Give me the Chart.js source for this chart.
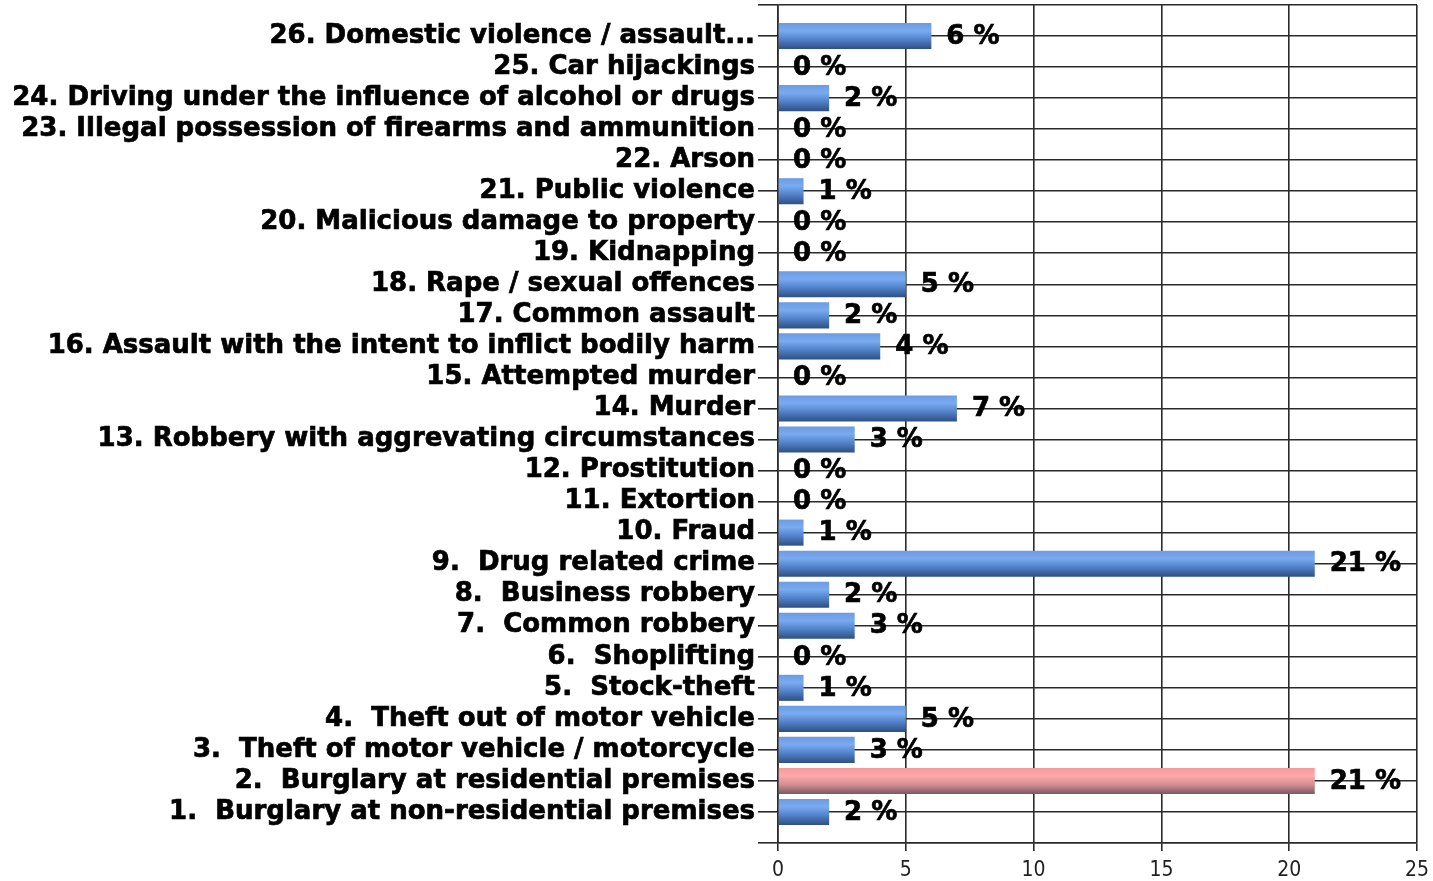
<!DOCTYPE html>
<html>
<head>
<meta charset="utf-8">
<script src="https://cdn.jsdelivr.net/npm/chart.js@4.4.0/dist/chart.umd.min.js"></script>
<style>
html,body{margin:0;padding:0;background:#fff;}
#wrap{width:1433px;height:881px;position:relative;}
</style>
</head>
<body>
<div id="wrap"><canvas id="c" width="1433" height="881"></canvas></div>
<script>
const categories = [
  "1.  Burglary at non-residential premises",
  "2.  Burglary at residential premises",
  "3.  Theft of motor vehicle / motorcycle",
  "4.  Theft out of motor vehicle",
  "5.  Stock-theft",
  "6.  Shoplifting",
  "7.  Common robbery",
  "8.  Business robbery",
  "9.  Drug related crime",
  "10. Fraud",
  "11. Extortion",
  "12. Prostitution",
  "13. Robbery with aggrevating circumstances",
  "14. Murder",
  "15. Attempted murder",
  "16. Assault with the intent to inflict bodily harm",
  "17. Common assault",
  "18. Rape / sexual offences",
  "19. Kidnapping",
  "20. Malicious damage to property",
  "21. Public violence",
  "22. Arson",
  "23. Illegal possession of firearms and ammunition",
  "24. Driving under the influence of alcohol or drugs",
  "25. Car hijackings",
  "26. Domestic violence / assault..."
];
const percentages = [2, 21, 3, 5, 1, 0, 3, 2, 21, 1, 0, 0, 3, 7, 0, 4, 2, 5, 0, 0, 1, 0, 0, 2, 0, 6];
const highlighted = [false, true, false, false, false, false, false, false, false, false, false, false, false, false, false, false, false, false, false, false, false, false, false, false, false, false];
const xTicks = [0, 5, 10, 15, 20, 25];

const FONT_FAMILY = "'DejaVu Sans', sans-serif";
const LABEL_FONT = "bold 26px " + FONT_FAMILY;

// pad with blank slots so grid lines appear at top and bottom edges
const labels = [""].concat(categories, [""]);
const values = [null].concat(percentages, [null]);
const hl = [false].concat(highlighted, [false]);

function barFill(ctx) {
  const chart = ctx.chart;
  const isHl = hl[ctx.dataIndex];
  const base = isHl ? "#f29a9c" : "#5b8edb";
  if (!chart.chartArea || !chart.scales.y) return base;
  const y = chart.scales.y.getPixelForValue(ctx.dataIndex);
  const h = 13;
  const g = chart.ctx.createLinearGradient(0, y - h, 0, y + h);
  if (isHl) {
    g.addColorStop(0, "#f49a9c");
    g.addColorStop(0.3, "#ffa8aa");
    g.addColorStop(0.65, "#d08e92");
    g.addColorStop(1, "#7a5a62");
  } else {
    g.addColorStop(0, "#6b9be2");
    g.addColorStop(0.3, "#7aaaf0");
    g.addColorStop(0.65, "#4f7fc6");
    g.addColorStop(1, "#2e4f82");
  }
  return g;
}

const valueLabels = {
  id: "valueLabels",
  afterDatasetsDraw(chart) {
    const ctx = chart.ctx;
    const meta = chart.getDatasetMeta(0);
    ctx.save();
    ctx.font = LABEL_FONT;
    ctx.fillStyle = "#000";
    ctx.strokeStyle = "#000";
    ctx.lineWidth = 0.7;
    ctx.textAlign = "left";
    ctx.textBaseline = "middle";
    meta.data.forEach((el, i) => {
      const v = values[i];
      if (v === null || v === undefined) return;
      const t = v + " %";
      ctx.fillText(t, el.x + 15, el.y + 1);
      ctx.strokeText(t, el.x + 15, el.y + 1);
    });
    ctx.restore();
  }
};

new Chart(document.getElementById("c"), {
  type: "bar",
  data: {
    labels: labels,
    datasets: [{
      data: values,
      backgroundColor: barFill,
      borderWidth: 0,
      categoryPercentage: 1,
      barPercentage: 0.84
    }]
  },
  options: {
    indexAxis: "y",
    responsive: false,
    animation: false,
    layout: { padding: { top: 5, right: 16, left: 0, bottom: 0 } },
    plugins: { legend: { display: false }, tooltip: { enabled: false } },
    scales: {
      y: {
        type: "category",
        reverse: true,
        offset: false,
        afterFit: (s) => { s.width = 778; s.paddingTop = 0; s.paddingBottom = 0; },
        grid: { offset: false, color: "#2a2a2a", lineWidth: 1.6, tickLength: 20, drawOnChartArea: true },
        border: { color: "#2a2a2a", width: 1.6 },
        ticks: {
          autoSkip: false,
          padding: 3,
          color: "#000",
          textStrokeColor: "#000",
          textStrokeWidth: 0.7,
          font: { family: FONT_FAMILY, size: 26, weight: "bold" }
        }
      },
      x: {
        min: 0,
        max: 25,
        afterFit: (s) => { s.height = 38; s.paddingLeft = 0; s.paddingRight = 0; },
        afterBuildTicks: (s) => { s.ticks = xTicks.map(v => ({ value: v })); },
        grid: { color: "#2a2a2a", lineWidth: 1.6, tickLength: 8 },
        border: { color: "#2a2a2a", width: 1.6 },
        ticks: {
          padding: 7,
          color: "#222",
          font: { family: "'DejaVu Sans Condensed', sans-serif", size: 21 }
        }
      }
    }
  },
  plugins: [valueLabels]
});
</script>
</body>
</html>
